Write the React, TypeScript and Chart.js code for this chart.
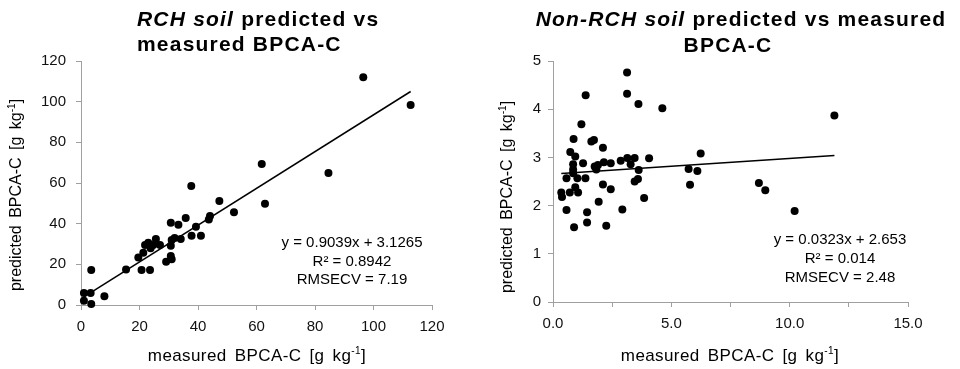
import React, { useEffect, useRef } from "react";
import { Chart, registerables } from "chart.js";

Chart.register(...registerables);

// ---- data ----
const rchPoints: [number, number][] = [
  [96.5, 112.0], [112.7, 98.4], [61.8, 69.3], [84.6, 64.9], [62.9, 49.8],
  [37.7, 58.5], [47.3, 51.1], [52.3, 45.6], [44.1, 43.8], [43.7, 42.1],
  [35.8, 42.8], [30.7, 40.5], [33.3, 39.5], [39.3, 38.5], [37.8, 34.1],
  [41.0, 34.1], [34.1, 32.5], [32.0, 33.0], [31.0, 32.0], [25.6, 32.5],
  [23.0, 30.6], [21.9, 29.5], [24.7, 29.5], [27.0, 29.5], [23.8, 27.9],
  [21.3, 25.7], [19.6, 23.4], [30.7, 29.2], [29.1, 21.3], [31.0, 22.5],
  [30.7, 24.1], [20.7, 17.2], [23.6, 17.2], [15.4, 17.4], [3.5, 17.2],
  [1.0, 5.9], [3.3, 5.9], [1.0, 2.1], [3.5, 0.5], [8.0, 4.3],
];
const rchFit = { slope: 0.9039, intercept: 3.1265 };
const rchStats = ["y = 0.9039x + 3.1265", "R² = 0.8942", "RMSECV = 7.19"];

const nonRchPoints: [number, number][] = [
  [3.13, 4.76], [3.13, 4.32], [1.38, 4.29], [3.61, 4.11], [4.62, 4.02],
  [11.89, 3.87], [1.2, 3.69], [0.87, 3.38], [1.62, 3.33], [1.73, 3.36],
  [2.11, 3.2], [0.73, 3.11], [0.94, 3.02], [6.24, 3.08], [3.14, 2.99],
  [3.45, 2.99], [4.06, 2.98], [2.86, 2.93], [2.15, 2.9], [2.44, 2.88],
  [1.27, 2.88], [0.85, 2.86], [3.28, 2.86], [1.76, 2.81], [1.9, 2.84],
  [1.83, 2.75], [0.85, 2.75], [0.85, 2.67], [3.62, 2.74], [5.73, 2.76],
  [6.1, 2.72], [0.57, 2.57], [1.03, 2.57], [1.37, 2.57], [3.45, 2.5],
  [3.59, 2.55], [2.11, 2.44], [5.79, 2.43], [8.7, 2.47], [8.97, 2.32],
  [0.94, 2.38], [2.44, 2.34], [0.35, 2.27], [0.38, 2.18], [0.71, 2.27],
  [1.06, 2.27], [3.85, 2.16], [1.93, 2.08], [0.57, 1.91], [2.93, 1.92],
  [1.44, 1.86], [10.21, 1.89], [1.44, 1.65], [2.25, 1.58], [0.89, 1.55],
];
const nonRchFit = { slope: 0.0323, intercept: 2.653 };
const nonRchStats = ["y = 0.0323x + 2.653", "R² = 0.014", "RMSECV = 2.48"];

const rchAxis = { min: 0, max: 120, step: 20 };
const rchYAxis = { min: 0, max: 120, step: 20 };
const nonRchXAxis = { min: 0, max: 15, step: 2.5, labelEvery: 5 };
const nonRchYAxis = { min: 0, max: 5, step: 1 };

const xTitle = ["measured BPCA-C [g kg", "-1", "]"];
const yTitle = ["predicted BPCA-C [g kg", "-1", "]"];

// ---- drawing helpers ----
const FONT = "'Liberation Sans', Arial, sans-serif";

type Run = { text: string; font: string; dy?: number };
type TextItem = {
  x: number;
  y: number;
  rotate?: number;
  align?: "left" | "center";
  runs: Run[];
  letterSpacing?: number;
  wordSpacing?: number;
};

const textLayer = {
  id: "textLayer",
  afterDraw(chart: any, _args: any, opts: any) {
    const items: TextItem[] = (opts && opts.items) || [];
    const ctx: any = chart.ctx;
    for (const it of items) {
      ctx.save();
      ctx.translate(it.x, it.y);
      if (it.rotate) ctx.rotate(it.rotate);
      ctx.fillStyle = "#000";
      ctx.textBaseline = "middle";
      ctx.textAlign = "left";
      ctx.letterSpacing = (it.letterSpacing || 0) + "px";
      ctx.wordSpacing = (it.wordSpacing || 0) + "px";
      let total = 0;
      const widths: number[] = [];
      for (const r of it.runs) {
        ctx.font = r.font;
        const w = ctx.measureText(r.text).width;
        widths.push(w);
        total += w;
      }
      let cx = it.align === "center" ? -total / 2 : 0;
      it.runs.forEach((r, i) => {
        ctx.font = r.font;
        ctx.fillText(r.text, cx, r.dy || 0);
        cx += widths[i];
      });
      ctx.restore();
    }
  },
};

function axisTitleRuns(parts: string[], size: number): Run[] {
  return [
    { text: parts[0], font: `${size}px ${FONT}` },
    { text: parts[1], font: `10px ${FONT}`, dy: -5 },
    { text: parts[2], font: `${size}px ${FONT}` },
  ];
}

function statItems(lines: string[], cx: number, ys: number[]): TextItem[] {
  return lines.map((t, i) => ({
    x: cx,
    y: ys[i],
    align: "center" as const,
    runs: [{ text: t, font: `15px ${FONT}` }],
  }));
}

function fitLine(points: [number, number][], fit: { slope: number; intercept: number }) {
  const xs = points.map((p) => p[0]);
  const x0 = Math.min(...xs);
  const x1 = Math.max(...xs);
  return [
    { x: x0, y: fit.slope * x0 + fit.intercept },
    { x: x1, y: fit.slope * x1 + fit.intercept },
  ];
}

function makeScale(
  ax: { min: number; max: number; step: number },
  size: { key: "width" | "height"; value: number },
  padding: number,
  callback?: (v: number) => string
) {
  return {
    type: "linear",
    min: ax.min,
    max: ax.max,
    afterFit(scale: any) {
      scale[size.key] = size.value;
    },
    ticks: {
      stepSize: ax.step,
      color: "#111",
      font: { family: FONT, size: 15 },
      padding,
      callback: callback || ((v: number) => String(v)),
    },
    grid: {
      display: true,
      drawOnChartArea: false,
      drawTicks: true,
      tickLength: 5,
      color: "#a0a0a0",
    },
    border: { display: true, color: "#a0a0a0", width: 1 },
  };
}

function buildConfig(
  points: [number, number][],
  fit: { slope: number; intercept: number },
  xScale: any,
  yScale: any,
  padding: any,
  items: TextItem[]
): any {
  return {
    type: "scatter",
    data: {
      datasets: [
        {
          data: points.map(([x, y]) => ({ x, y })),
          backgroundColor: "#000",
          borderWidth: 0,
          pointRadius: 4,
          clip: false,
        },
        {
          type: "line",
          data: fitLine(points, fit),
          borderColor: "#000",
          borderWidth: 1.5,
          pointRadius: 0,
          fill: false,
          clip: false,
        },
      ],
    },
    options: {
      responsive: false,
      animation: false,
      devicePixelRatio: 1,
      layout: { padding },
      plugins: {
        legend: { display: false },
        tooltip: { enabled: false },
        title: { display: false },
        textLayer: { items },
      },
      scales: { x: xScale, y: yScale },
    },
    plugins: [textLayer],
  };
}

const TITLE_SIZE = 21;
const TITLE_SPACING = 1.2;

export default function App() {
  const leftRef = useRef<HTMLCanvasElement>(null);
  const rightRef = useRef<HTMLCanvasElement>(null);

  useEffect(() => {
    const xTitleItem = (x: number): TextItem => ({
      x,
      y: 356,
      align: "center",
      letterSpacing: 0.4,
      wordSpacing: 3,
      runs: axisTitleRuns(xTitle, 17),
    });
    const yTitleItem = (x: number, y: number): TextItem => ({
      x,
      y,
      align: "center",
      rotate: -Math.PI / 2,
      wordSpacing: 3,
      runs: axisTitleRuns(yTitle, 16),
    });
    const leftItems: TextItem[] = [
      {
        x: 137,
        y: 20,
        letterSpacing: TITLE_SPACING,
        runs: [
          { text: "RCH soil", font: `italic bold ${TITLE_SIZE}px ${FONT}` },
          { text: " predicted vs", font: `bold ${TITLE_SIZE}px ${FONT}` },
        ],
      },
      {
        x: 137,
        y: 45,
        letterSpacing: TITLE_SPACING,
        runs: [{ text: "measured BPCA-C", font: `bold ${TITLE_SIZE}px ${FONT}` }],
      },
      xTitleItem(257),
      yTitleItem(17, 195),
      ...statItems(rchStats, 352, [243, 261.5, 280]),
    ];
    const rightItems: TextItem[] = [
      {
        x: 261,
        y: 20,
        align: "center",
        letterSpacing: TITLE_SPACING,
        runs: [
          { text: "Non-RCH soil", font: `italic bold ${TITLE_SIZE}px ${FONT}` },
          { text: " predicted vs measured", font: `bold ${TITLE_SIZE}px ${FONT}` },
        ],
      },
      {
        x: 248,
        y: 46,
        align: "center",
        letterSpacing: TITLE_SPACING,
        runs: [{ text: "BPCA-C", font: `bold ${TITLE_SIZE}px ${FONT}` }],
      },
      xTitleItem(250),
      yTitleItem(28, 197),
      ...statItems(nonRchStats, 360, [240, 259, 277.7]),
    ];

    const left = new Chart(
      leftRef.current as HTMLCanvasElement,
      buildConfig(
        rchPoints,
        rchFit,
        makeScale(rchAxis, { key: "height", value: 64 }, 8),
        makeScale(rchYAxis, { key: "width", value: 81 }, 10),
        { top: 61, right: 48, left: 0, bottom: 0 },
        leftItems
      )
    );
    const right = new Chart(
      rightRef.current as HTMLCanvasElement,
      buildConfig(
        nonRchPoints,
        nonRchFit,
        makeScale(
          nonRchXAxis,
          { key: "height", value: 67 },
          8,
          (v: number) => (Math.abs(v % nonRchXAxis.labelEvery) < 1e-9 ? v.toFixed(1) : "")
        ),
        makeScale(nonRchYAxis, { key: "width", value: 73 }, 7),
        { top: 61, right: 52, left: 0, bottom: 0 },
        rightItems
      )
    );
    return () => {
      left.destroy();
      right.destroy();
    };
  }, []);

  return (
    <div
      style={{
        position: "fixed",
        left: 0,
        top: 0,
        width: 960,
        height: 369,
        background: "#fff",
      }}
    >
      <canvas ref={leftRef} width={480} height={369} style={{ position: "absolute", left: 0, top: 0 }} />
      <canvas ref={rightRef} width={480} height={369} style={{ position: "absolute", left: 480, top: 0 }} />
    </div>
  );
}
